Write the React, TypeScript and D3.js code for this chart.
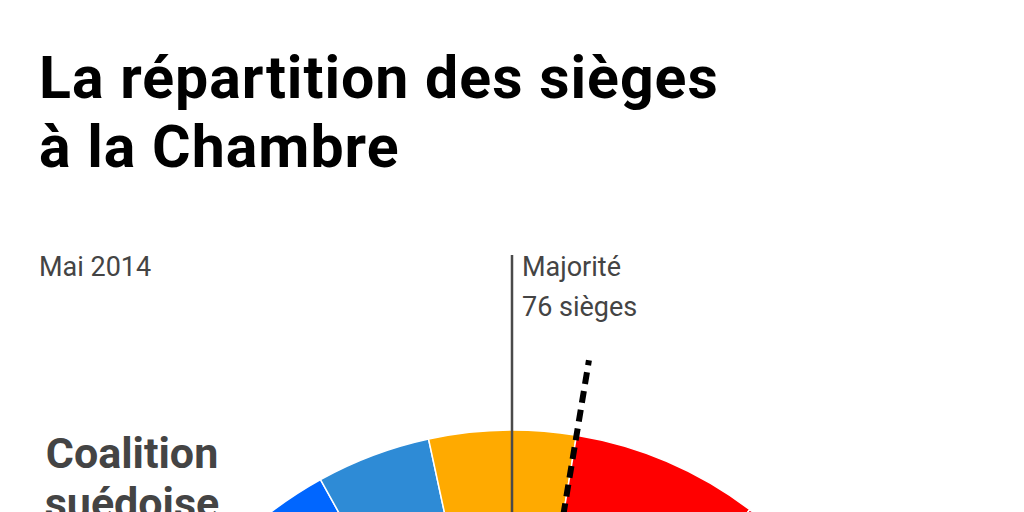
import * as d3 from "d3";

// sièges à la Chambre, mai 2014
const parties = ["N-VA", "MR", "Open VLD", "CD&V", "PS", "sp.a", "cdH", "Ecolo", "Groen", "PTB-GO!", "FDF", "VB", "PP"];
const seats = [33, 20, 14, 18, 23, 13, 9, 6, 6, 2, 2, 3, 1];
const colors = ["#ffd400", "#0066ff", "#2e8bd6", "#ffaa00", "#ff0000", "#e8112d", "#f07d00", "#8cc63e", "#59b031", "#a8002d", "#d5007f", "#333333", "#7a1e5c"];
const coalition = ["N-VA", "MR", "Open VLD", "CD&V"];
const majority = 76;

const width = 1024;
const height = 512;
const cx = 512;
const cy = 825;
const outerR = 395;
const innerR = 200;
const rot = (-2.6 * Math.PI) / 180;

const App = () => {
  const pie = d3
    .pie<number>()
    .sort(null)
    .value((d) => d)
    .startAngle(-Math.PI / 2 + rot)
    .endAngle(Math.PI / 2 + rot);
  const arcs = pie(seats);
  const arc = d3.arc<d3.PieArcDatum<number>>().innerRadius(innerR).outerRadius(outerR);

  // fin de la coalition
  const lastCoal = arcs[coalition.length - 1].endAngle;
  const dashEnd = outerR + 76;

  return (
    <svg
      width={width}
      height={height}
      style={{ position: "absolute", left: 0, top: 0, background: "#fff" }}
      fontFamily="Roboto"
    >
      <text x={39} y={98} fontSize={59} fontWeight="bold" fill="#000" letterSpacing={1}>
        La répartition des sièges
      </text>
      <text x={39} y={167} fontSize={59} fontWeight="bold" fill="#000" letterSpacing={1}>
        à la Chambre
      </text>
      <text x={39} y={276} fontSize={27} fill="#444">
        Mai 2014
      </text>

      <g transform={`translate(${cx},${cy})`}>
        {arcs.map((a, i) => (
          <path key={parties[i]} d={arc(a) || ""} fill={colors[i]} stroke="#fff" strokeWidth={1.5} />
        ))}
        <line
          x1={innerR * Math.sin(lastCoal)}
          y1={-innerR * Math.cos(lastCoal)}
          x2={dashEnd * Math.sin(lastCoal)}
          y2={-dashEnd * Math.cos(lastCoal)}
          stroke="#000"
          strokeWidth={6}
          strokeDasharray="12,7"
        />
      </g>

      <line x1={cx} x2={cx} y1={255} y2={cy} stroke="#4a4a4a" strokeWidth={2.5} />
      <text x={522} y={276} fontSize={27} fill="#444">
        Majorité
      </text>
      <text x={522} y={316} fontSize={27} fill="#444">
        {majority} sièges
      </text>

      <text x={132} y={468} fontSize={43} fontWeight="bold" fill="#444" textAnchor="middle">
        Coalition
      </text>
      <text x={132} y={518} fontSize={43} fontWeight="bold" fill="#444" textAnchor="middle">
        suédoise
      </text>
    </svg>
  );
};

export default App;
